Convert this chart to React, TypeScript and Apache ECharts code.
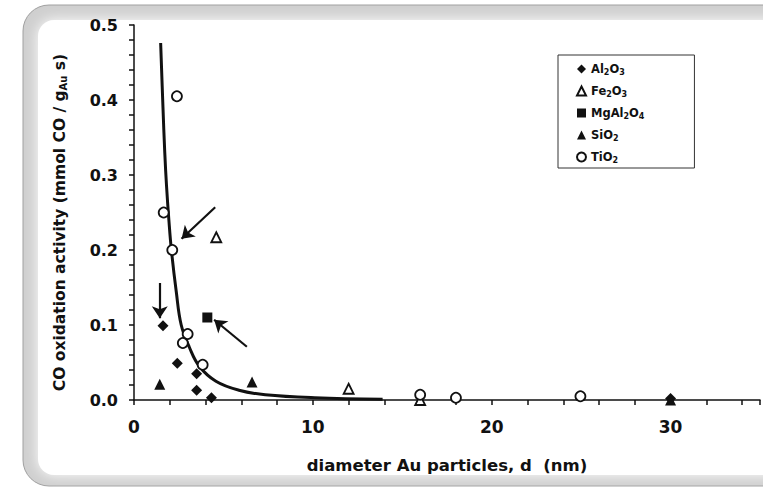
import React, { useEffect, useRef } from "react";
import * as echarts from "echarts";

// Particle diameter d (nm) and CO oxidation activity (mmol CO / gAu s)
const al2o3: [number, number][] = [
  [1.62, 0.099], [2.42, 0.049], [3.5, 0.035], [3.5, 0.013], [4.33, 0.003], [30, 0.002],
];
const fe2o3: [number, number][] = [
  [4.6, 0.217], [12.0, 0.015], [16.0, 0.0],
];
const mgal2o4: [number, number][] = [[4.1, 0.11]];
const sio2: [number, number][] = [
  [1.44, 0.021], [6.6, 0.024], [30, 0.0],
];
const tio2: [number, number][] = [
  [2.4, 0.405], [1.66, 0.25], [2.14, 0.2], [3.0, 0.088], [2.73, 0.076], [3.84, 0.047],
  [16.0, 0.007], [18.0, 0.003], [24.96, 0.005],
];
const fitCurve: [number, number][] = [
  [1.49, 0.476], [1.62, 0.39], [1.72, 0.33], [1.82, 0.285], [1.95, 0.24], [2.09, 0.2],
  [2.36, 0.145], [2.64, 0.1], [3.1, 0.07], [3.65, 0.045], [4.58, 0.025], [5.87, 0.013],
  [7.34, 0.007], [10.1, 0.003], [13.9, 0.001],
];
// annotation arrows: [tail, tip]
const arrows: [[number, number], [number, number]][] = [
  [[4.54, 0.257], [2.66, 0.215]],
  [[1.44, 0.156], [1.44, 0.109]],
  [[6.31, 0.071], [4.48, 0.107]],
];
const xLabelValues = [0, 10, 20, 30];
const yLabelValues = [0, 0.1, 0.2, 0.3, 0.4, 0.5];

const FONT = "DejaVu Sans";
const INK = "#111";

function subscriptify(name: string): string {
  return name.replace(/(\d)/g, "{sub|$1}");
}

export default function App() {
  const ref = useRef<HTMLDivElement>(null);
  useEffect(() => {
    if (!ref.current) return;
    const chart = echarts.init(ref.current, undefined, { renderer: "svg" });
    const openStyle = { color: "#fff", borderColor: INK, borderWidth: 1.8, opacity: 1 };
    const fillStyle = { color: INK, opacity: 1 };
    chart.setOption({
      animation: false,
      backgroundColor: "#fff",
      graphic: [
        {
          type: "rect",
          z: -20,
          shape: { x: 23, y: 5, width: 820, height: 481, r: 26 },
          style: { fill: "#cfcfcf", stroke: "#a0a0a0", lineWidth: 1 },
        },
        {
          type: "rect",
          z: -19,
          shape: { x: 38, y: 20, width: 820, height: 455, r: 16 },
          style: { fill: "#fff", shadowBlur: 14, shadowColor: "#ffffff" },
        },
      ],
      grid: { left: 134, top: 25, right: -4, bottom: 87 },
      legend: {
        data: ["Al2O3", "Fe2O3", "MgAl2O4", "SiO2", "TiO2"],
        orient: "vertical",
        left: 558,
        top: 55,
        padding: [7, 50, 4, 18],
        itemGap: 8,
        itemWidth: 9,
        itemHeight: 9,
        borderColor: "#333",
        borderWidth: 1,
        formatter: (name: string) => subscriptify(name),
        textStyle: {
          fontFamily: FONT,
          fontWeight: "bold",
          fontSize: 11.5,
          color: INK,
          lineHeight: 14,
          rich: {
            sub: {
              fontFamily: FONT,
              fontWeight: "bold",
              fontSize: 8,
              lineHeight: 8,
              verticalAlign: "bottom",
              color: INK,
            },
          },
        },
      },
      xAxis: {
        type: "value",
        min: 0,
        max: 35,
        interval: 2,
        name: "diameter Au particles, d  (nm)",
        nameLocation: "middle",
        nameGap: 57,
        nameTextStyle: { fontFamily: FONT, fontWeight: "bold", fontSize: 16.5, color: INK },
        axisLine: { lineStyle: { color: INK, width: 1.5 } },
        axisTick: { show: true, length: 5, lineStyle: { color: INK, width: 1.5 } },
        splitLine: { show: false },
        axisLabel: {
          margin: 18,
          fontFamily: FONT,
          fontWeight: "bold",
          fontSize: 17,
          color: INK,
          formatter: (v: number) =>
            xLabelValues.some((t) => Math.abs(t - v) < 1e-6) ? String(v) : "",
        },
      },
      yAxis: {
        type: "value",
        min: 0,
        max: 0.5,
        interval: 0.02,
        name: "CO oxidation activity (mmol CO / g{sub|Au} s)",
        nameLocation: "middle",
        nameGap: 66,
        nameTextStyle: {
          fontFamily: FONT,
          fontWeight: "bold",
          fontSize: 15.5,
          color: INK,
          padding: [0, 0, 0, -20],
          rich: {
            sub: {
              fontFamily: FONT,
              fontWeight: "bold",
              fontSize: 10,
              lineHeight: 10,
              verticalAlign: "bottom",
              color: INK,
            },
          },
        },
        axisLine: { show: true, lineStyle: { color: INK, width: 1.5 } },
        axisTick: { show: true, length: 5, lineStyle: { color: INK, width: 1.5 } },
        splitLine: { show: false },
        axisLabel: {
          margin: 16,
          fontFamily: FONT,
          fontWeight: "bold",
          fontSize: 16,
          color: INK,
          formatter: (v: number) =>
            yLabelValues.some((t) => Math.abs(t - v) < 1e-6) ? v.toFixed(1) : "",
        },
      },
      series: [
        {
          name: "fit",
          type: "line",
          data: fitCurve,
          smooth: 0.4,
          showSymbol: false,
          symbol: "none",
          lineStyle: { color: INK, width: 3 },
          z: 1,
          markLine: {
            silent: true,
            symbol: ["none", "arrow"],
            symbolSize: 12,
            label: { show: false },
            itemStyle: { color: INK },
            lineStyle: { color: INK, width: 2.2, type: "solid" },
            data: arrows.map(([a, b]) => [
              { coord: a, symbol: "none" },
              { coord: b, symbol: "arrow", symbolSize: 12 },
            ]),
          },
        },
        { name: "Al2O3", type: "scatter", symbol: "diamond", symbolSize: 11, data: al2o3, itemStyle: fillStyle, z: 3 },
        { name: "Fe2O3", type: "scatter", symbol: "triangle", symbolSize: 10, data: fe2o3, itemStyle: openStyle, z: 3 },
        { name: "MgAl2O4", type: "scatter", symbol: "rect", symbolSize: 10, data: mgal2o4, itemStyle: fillStyle, z: 3 },
        { name: "SiO2", type: "scatter", symbol: "triangle", symbolSize: 11, data: sio2, itemStyle: fillStyle, z: 3 },
        { name: "TiO2", type: "scatter", symbol: "circle", symbolSize: 10, data: tio2, itemStyle: openStyle, z: 3 },
      ],
    });
    return () => chart.dispose();
  }, []);
  return (
    <div
      ref={ref}
      style={{ position: "fixed", left: 0, top: 0, width: 763, height: 487 }}
    />
  );
}
